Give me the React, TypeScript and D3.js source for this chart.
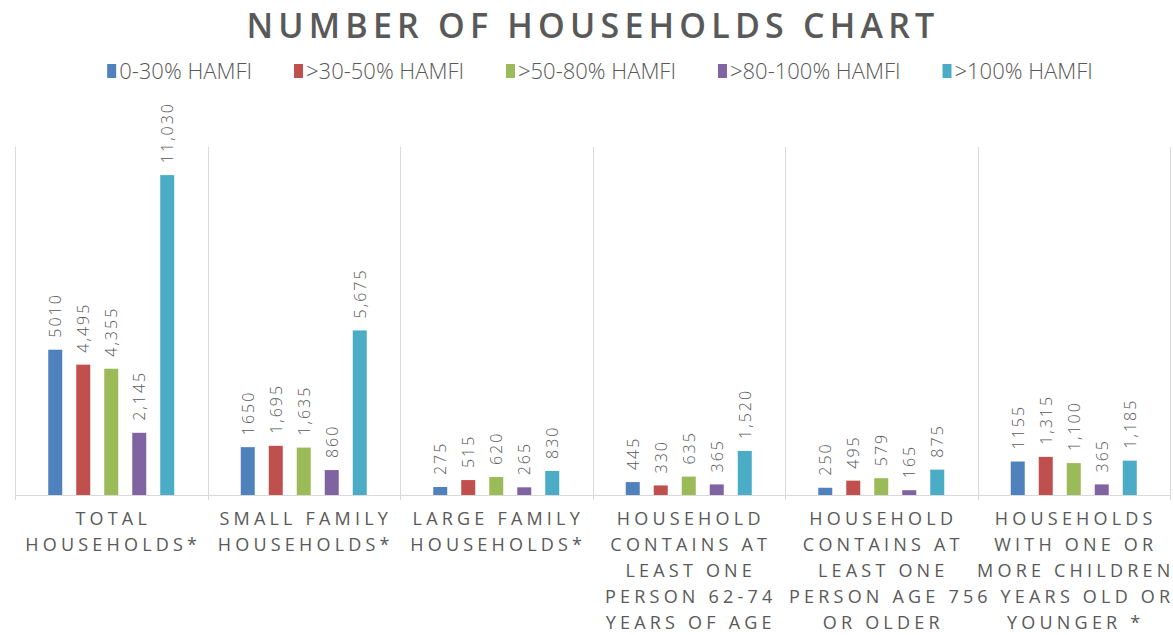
import React, { useEffect, useRef } from "react";
import * as d3 from "d3";

const title = "NUMBER OF HOUSEHOLDS CHART";
const categories = [
  "Total Households*",
  "Small Family Households*",
  "Large Family Households*",
  "Household contains at least one person 62-74 years of age",
  "Household contains at least one person age 75 or older",
  "Households with one or more children 6 years old or younger *",
];
const categoryLines = [
  ["TOTAL", "HOUSEHOLDS*"],
  ["SMALL FAMILY", "HOUSEHOLDS*"],
  ["LARGE FAMILY", "HOUSEHOLDS*"],
  ["HOUSEHOLD", "CONTAINS AT", "LEAST ONE", "PERSON 62-74", "YEARS OF AGE"],
  ["HOUSEHOLD", "CONTAINS AT", "LEAST ONE", "PERSON AGE 75", "OR OLDER"],
  ["HOUSEHOLDS", "WITH ONE OR", "MORE CHILDREN", "6 YEARS OLD OR", "YOUNGER *"],
];
const seriesNames = ["0-30% HAMFI", ">30-50% HAMFI", ">50-80% HAMFI", ">80-100% HAMFI", ">100% HAMFI"];
const seriesColors = ["#4F81BD", "#C0504D", "#9BBB59", "#8064A2", "#4BACC6"];
const s0_30 = [5010, 1650, 275, 445, 250, 1155];
const s30_50 = [4495, 1695, 515, 330, 495, 1315];
const s50_80 = [4355, 1635, 620, 635, 579, 1100];
const s80_100 = [2145, 860, 265, 365, 165, 365];
const s100 = [11030, 5675, 830, 1520, 875, 1185];
const seriesValues = [s0_30, s30_50, s50_80, s80_100, s100];
const yMax = 12000;

const W = 1173;
const H = 635;

export default function App() {
  const ref = useRef<SVGSVGElement>(null);
  useEffect(() => {
    const svg = d3.select(ref.current);
    svg.selectAll("*").remove();
    const font = "'Open Sans', 'DejaVu Sans', sans-serif";
    const grey = "#595959";

    const left = 15, right = 1170, top = 147, base = 495;
    const x0 = d3.scaleBand<number>().domain(d3.range(categories.length)).range([left, right]).padding(0);
    const bw = x0.bandwidth();
    const x1 = d3.scaleBand<number>().domain(d3.range(seriesNames.length))
      .range([bw / 2 - 70, bw / 2 + 70]).paddingInner(0.5).paddingOuter(0.25);
    const y = d3.scaleLinear().domain([0, yMax]).range([base, top]);

    // title
    svg.append("text").attr("x", 593).attr("y", 38).attr("text-anchor", "middle")
      .attr("font-family", font).attr("font-weight", 600).attr("font-size", 34)
      .attr("letter-spacing", 5.2).attr("fill", grey).text(title);

    // legend
    const lg = svg.append("g");
    let lx = 0;
    const items: { g: any; w: number }[] = [];
    seriesNames.forEach((n, i) => {
      const g = lg.append("g");
      g.append("rect").attr("x", 0).attr("y", 64).attr("width", 9).attr("height", 14).attr("fill", seriesColors[i]);
      const t = g.append("text").attr("x", 12).attr("y", 79).attr("font-family", font).attr("font-weight", 300)
        .attr("font-size", 22).attr("fill", grey).text(n);
      const tw = (t.node() as SVGTextElement).getComputedTextLength();
      items.push({ g, w: 12 + tw });
    });
    const gap = 42;
    const total = d3.sum(items, (d) => d.w) + gap * (items.length - 1);
    lx = 600 - total / 2;
    items.forEach((it) => {
      it.g.attr("transform", `translate(${lx},0)`);
      lx += it.w + gap;
    });

    // grid
    const grid = svg.append("g").attr("stroke", "#d9d9d9").attr("stroke-width", 1);
    d3.range(categories.length + 1).forEach((i) => {
      const xx = Math.round(left + i * bw) + 0.5;
      grid.append("line").attr("x1", xx).attr("x2", xx).attr("y1", top).attr("y2", base + 5);
    });
    grid.append("line").attr("x1", left).attr("x2", right).attr("y1", base + 0.5).attr("y2", base + 0.5);

    // bars
    seriesValues.forEach((vals, si) => {
      const fmt = si === 0 ? d3.format("d") : d3.format(",");
      vals.forEach((v, ci) => {
        const bx = x0(ci)! + x1(si)!;
        svg.append("rect").attr("x", bx).attr("y", y(v)).attr("width", x1.bandwidth())
          .attr("height", base - y(v)).attr("fill", seriesColors[si]);
        const cx = bx + x1.bandwidth() / 2;
        const ty = y(v) - 12;
        svg.append("text").attr("transform", `translate(${cx},${ty}) rotate(-90)`)
          .attr("dominant-baseline", "central").attr("text-anchor", "start")
          .attr("font-family", font).attr("font-weight", 300).attr("font-size", 16)
          .attr("letter-spacing", 2).attr("fill", grey).text(fmt(v));
      });
    });

    // category labels
    categoryLines.forEach((lines, ci) => {
      const cx = x0(ci)! + bw / 2 + 2;
      lines.forEach((ln, li) => {
        svg.append("text").attr("x", cx).attr("y", 525 + li * 26).attr("text-anchor", "middle")
          .attr("font-family", font).attr("font-size", 18).attr("letter-spacing", 4.2)
          .attr("fill", grey).text(ln);
      });
    });
  }, []);
  return (
    <svg ref={ref} width={W} height={H} style={{ position: "absolute", left: 0, top: 0, background: "#fff" }} />
  );
}
